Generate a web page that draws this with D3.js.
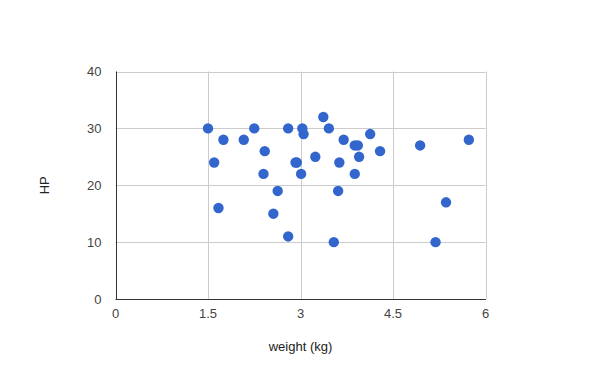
<!DOCTYPE html>
<html>
<head>
<meta charset="utf-8">
<script src="https://cdn.jsdelivr.net/npm/d3@7"></script>
<style>
  body { margin: 0; background: #fff; }
  text { font-family: Arial, "Liberation Sans", sans-serif; }
</style>
</head>
<body>
<svg id="chart"></svg>
<script>
'use strict'

const weights = [1.50, 1.75, 2.08, 2.25, 2.80, 2.42, 1.60, 2.92, 2.94, 2.40, 3.01, 2.63, 1.67, 2.56, 2.80,
  3.03, 3.05, 3.37, 3.46, 3.70, 4.13, 3.88, 3.93, 4.29, 4.94, 5.73, 3.24, 3.95, 3.63, 3.88, 3.61, 5.36, 3.54, 5.19]
const hp = [30, 28, 28, 30, 30, 26, 24, 24, 24, 22, 22, 19, 16, 15, 11,
  30, 29, 32, 30, 28, 29, 27, 27, 26, 27, 28, 25, 25, 24, 22, 19, 17, 10, 10]
const xTicks = [0, 1.5, 3, 4.5, 6]
const yTicks = [0, 10, 20, 30, 40]

const width = 600
const height = 371
const margin = { top: 71.5, right: 114.5, bottom: 72, left: 115.5 }

const svg = d3.select('#chart').attr('width', width).attr('height', height)

const x = d3.scaleLinear().domain([0, 6]).range([margin.left, width - margin.right])
const y = d3.scaleLinear().domain([0, 40]).range([height - margin.bottom, margin.top])

// grid
svg.append('g')
  .selectAll('line')
  .data(xTicks.slice(1))
  .enter().append('line')
  .attr('x1', (d) => Math.round(x(d)) + 0.5)
  .attr('x2', (d) => Math.round(x(d)) + 0.5)
  .attr('y1', y(40))
  .attr('y2', y(0))
  .attr('stroke', '#ccc')

svg.append('g')
  .selectAll('line')
  .data(yTicks.slice(1))
  .enter().append('line')
  .attr('x1', x(0))
  .attr('x2', x(6))
  .attr('y1', (d) => Math.round(y(d)) + 0.5)
  .attr('y2', (d) => Math.round(y(d)) + 0.5)
  .attr('stroke', '#ccc')

// axes lines
svg.append('line')
  .attr('x1', Math.round(x(0)) + 0.5).attr('x2', Math.round(x(0)) + 0.5)
  .attr('y1', y(40)).attr('y2', y(0) + 0.5)
  .attr('stroke', '#333')
svg.append('line')
  .attr('x1', x(0)).attr('x2', x(6) + 0.5)
  .attr('y1', Math.round(y(0)) + 0.5).attr('y2', Math.round(y(0)) + 0.5)
  .attr('stroke', '#333')

// tick labels
svg.append('g')
  .selectAll('text')
  .data(xTicks)
  .enter().append('text')
  .attr('x', (d) => x(d))
  .attr('y', y(0) + 19)
  .attr('text-anchor', 'middle')
  .attr('font-size', 13)
  .attr('fill', '#444')
  .text((d) => d)

svg.append('g')
  .selectAll('text')
  .data(yTicks)
  .enter().append('text')
  .attr('x', x(0) - 14)
  .attr('y', (d) => y(d) + 4.5)
  .attr('text-anchor', 'end')
  .attr('font-size', 13)
  .attr('fill', '#444')
  .text((d) => d)

// axis titles
svg.append('text')
  .attr('x', (x(0) + x(6)) / 2)
  .attr('y', y(0) + 52)
  .attr('text-anchor', 'middle')
  .attr('font-size', 13)
  .attr('fill', '#222')
  .text('weight (kg)')

svg.append('text')
  .attr('transform', `translate(49, ${(y(0) + y(40)) / 2}) rotate(-90)`)
  .attr('text-anchor', 'middle')
  .attr('font-size', 13)
  .attr('fill', '#222')
  .text('HP')

// points
svg.append('g')
  .selectAll('circle')
  .data(weights.map((w, i) => [w, hp[i]]))
  .enter().append('circle')
  .attr('cx', (d) => x(d[0]))
  .attr('cy', (d) => y(d[1]))
  .attr('r', 5.2)
  .attr('fill', '#3366cc')
</script>
</body>
</html>
